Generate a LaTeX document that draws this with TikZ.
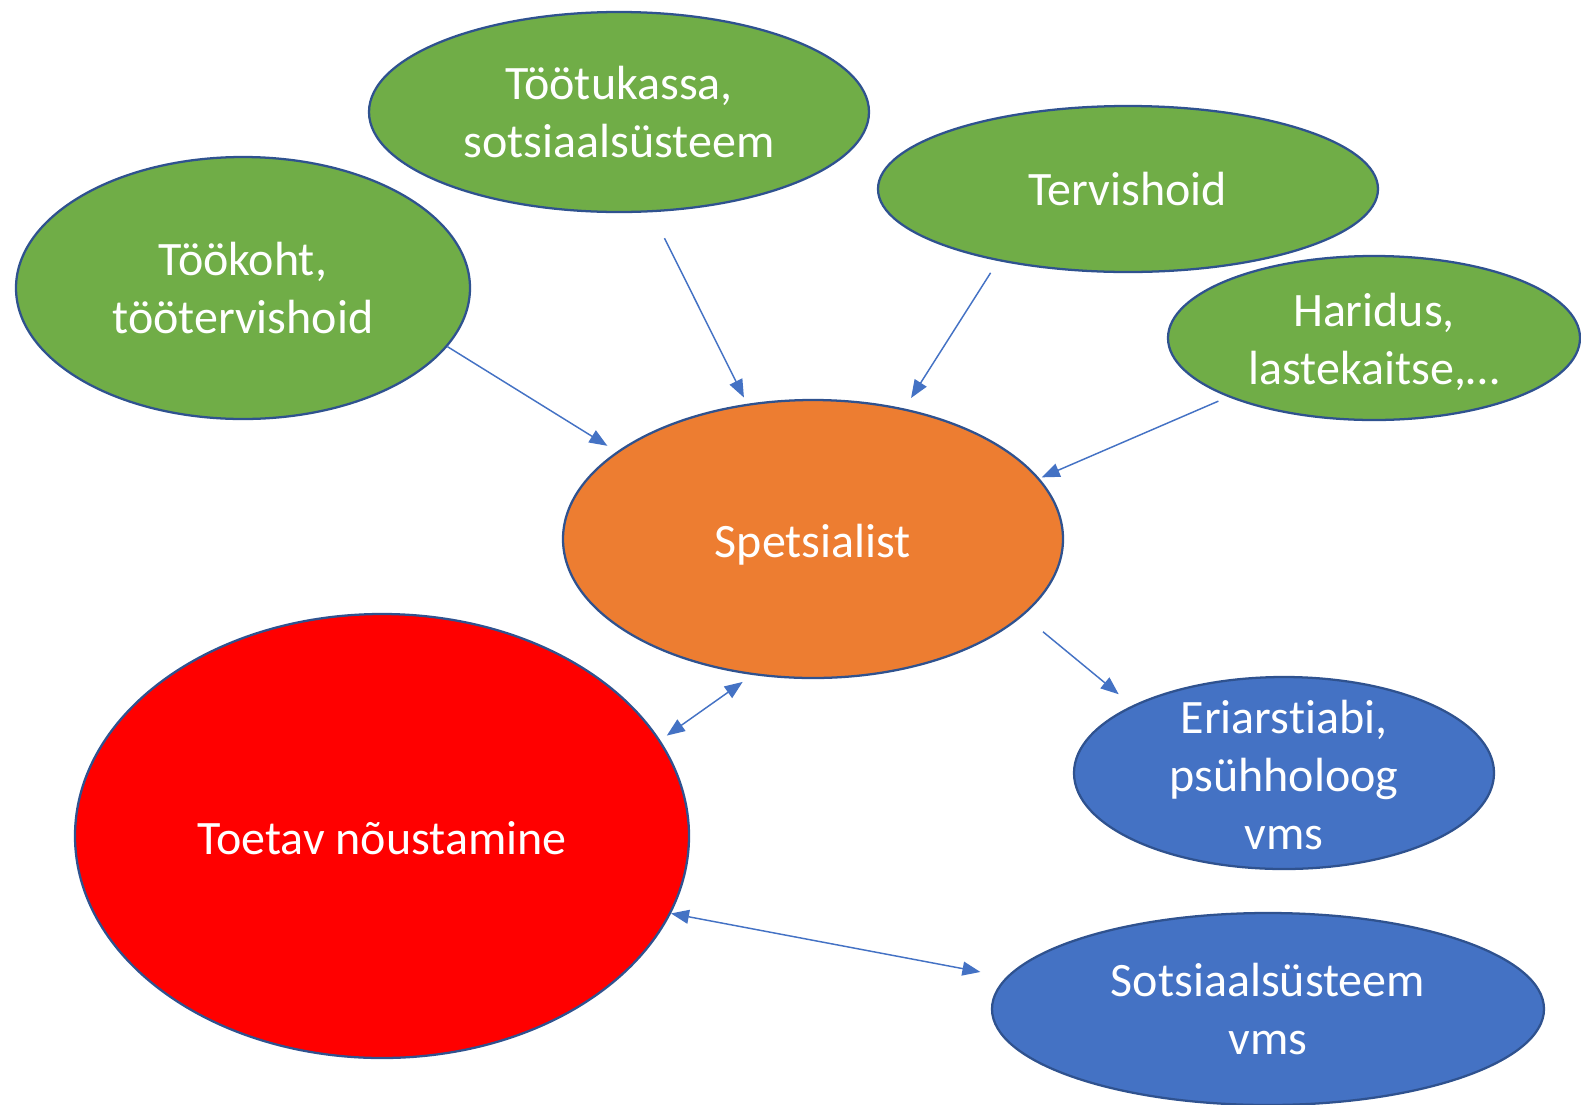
\documentclass[tikz,border=0pt]{standalone}
\usepackage{fontspec}
\setmainfont{Carlito}[Ligatures={NoCommon}]
\usetikzlibrary{shapes.geometric,arrows.meta}
\definecolor{grn}{HTML}{70AD47}
\definecolor{org}{HTML}{ED7D31}
\definecolor{rd}{HTML}{FF0000}
\definecolor{blu}{HTML}{4472C4}
\definecolor{edge}{HTML}{2F528F}
\definecolor{arrblue}{HTML}{4472C4}
\begin{document}
\begin{tikzpicture}[x=0.75pt,y=-0.75pt,
  ell/.style={ellipse, draw=edge, line width=1.7pt, inner sep=0pt},
  lbl/.style={font=\fontsize{36}{43.5}\selectfont, text=white, align=center, inner sep=0pt, label distance=0pt},
  arr/.style={draw=arrblue, line width=1.1pt, -{Triangle[length=13.5pt,width=10.5pt]}},
  darr/.style={draw=arrblue, line width=1.1pt, {Triangle[length=13.5pt,width=10.5pt]}-{Triangle[length=13.5pt,width=10.5pt]}}]
\useasboundingbox (0,0) rectangle (1581,1104);
\clip (0,0) rectangle (1581,1104);
\node[ell, fill=grn, minimum width=375pt, minimum height=150pt, label={[lbl]center:{Töötukassa,\\sotsiaalsüsteem}}] (tootukassa) at (619,112) {};
\node[ell, fill=grn, minimum width=375pt, minimum height=124.5pt, label={[lbl]center:Tervishoid}] (tervishoid) at (1128,189) {};
\node[ell, fill=grn, minimum width=340.5pt, minimum height=196.5pt, label={[lbl]center:{Töökoht,\\töötervishoid}}] (tookoht) at (243,288) {};
\node[ell, fill=grn, minimum width=309pt, minimum height=123pt, label={[lbl,yshift=-3pt]center:{Haridus,\\lastekaitse,…}}] (haridus) at (1374,338) {};
\node[ell, fill=org, minimum width=375pt, minimum height=208.5pt, label={[lbl,yshift=-4pt]center:Spetsialist}] (spets) at (813,539) {};
\node[ell, fill=rd, minimum width=460.5pt, minimum height=333pt, label={[lbl,yshift=-1.5pt]center:Toetav nõustamine}] (toetav) at (382,836) {};
\node[ell, fill=blu, minimum width=315pt, minimum height=144pt, label={[lbl,yshift=-1.5pt]center:{Eriarstiabi,\\psühholoog\\vms}}] (eri) at (1284,773) {};
\node[ell, fill=blu, minimum width=414pt, minimum height=144pt, label={[lbl]center:{Sotsiaalsüsteem\\vms}}] (sots) at (1268,1009) {};
\draw[arr, shorten <=0pt, shorten >=8.25pt] (tookoht.-16) -- (spets.156.6);
\draw[arr, shorten <=21.75pt, shorten >=5.25pt] (tootukassa.-72) -- (spets.116);
\draw[arr, shorten <=10.5pt, shorten >=9.3pt] (tervishoid.209) -- (spets.55);
\draw[arr, shorten <=7.9pt, shorten >=1.9pt] (haridus.202) -- (spets.15);
\draw[arr, shorten <=19.1pt, shorten >=13.2pt] (spets.-20) -- (eri.156);
\draw[darr, shorten <=6pt, shorten >=9pt] (toetav.19) -- (spets.246);
\draw[darr, shorten <=0pt, shorten >=19.9pt] (toetav.-15.6) -- (sots.173);
\end{tikzpicture}
\end{document}
